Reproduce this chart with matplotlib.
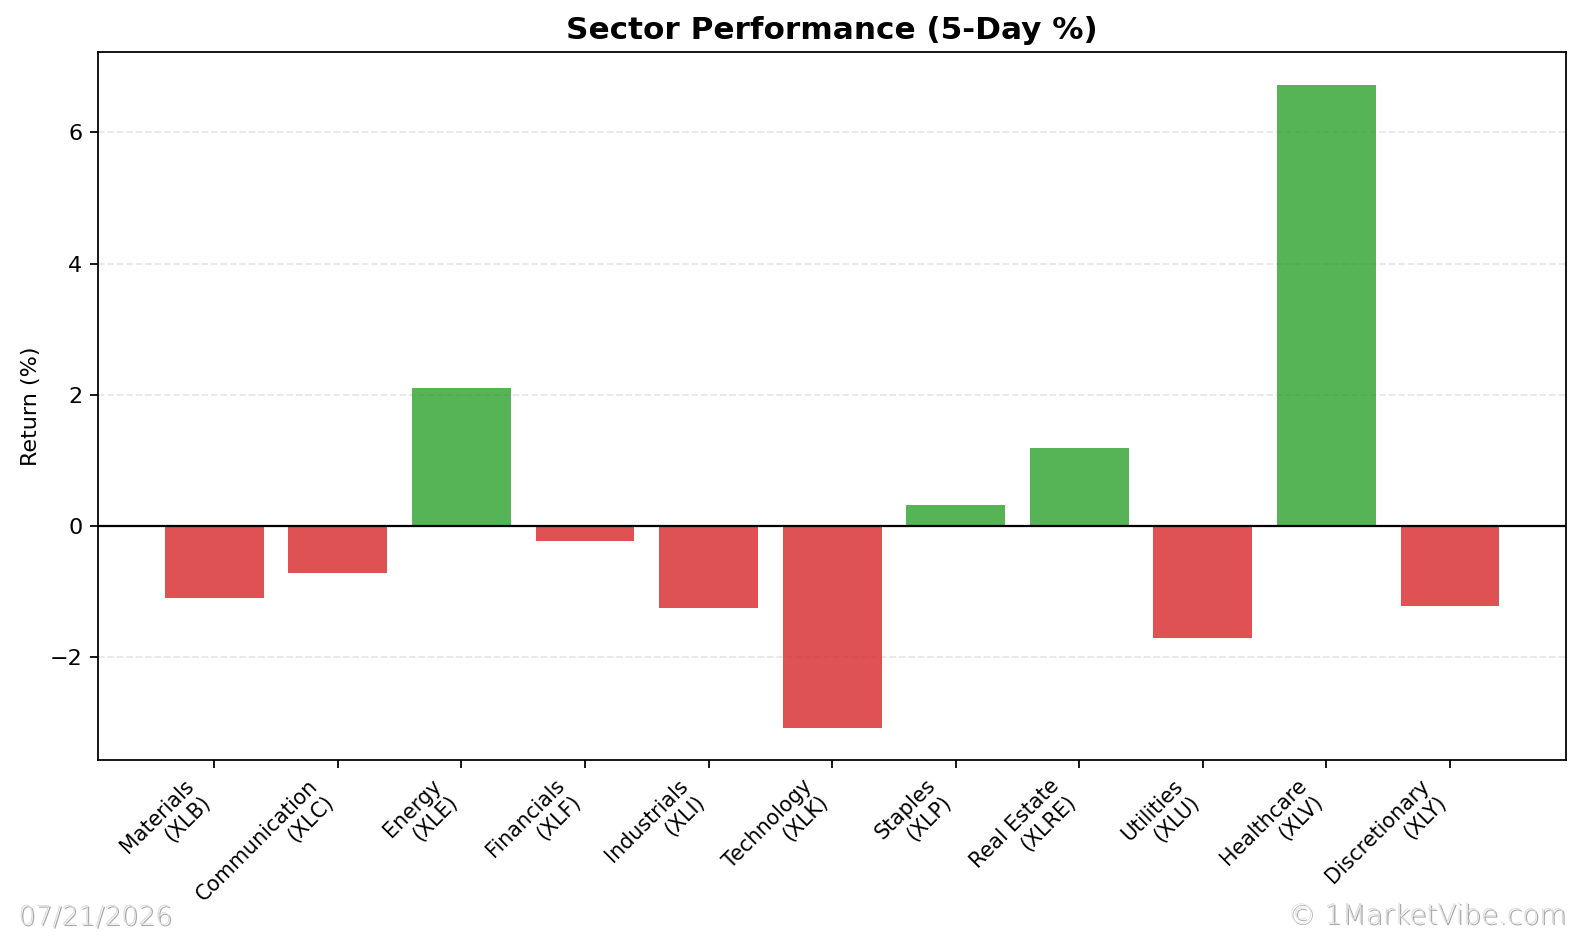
import numpy as np
import matplotlib
matplotlib.use("Agg")
import matplotlib.pyplot as plt
import matplotlib.patheffects as pe

# sector data (5-day % return)
sectors = ["Materials", "Communication", "Energy", "Financials", "Industrials",
           "Technology", "Staples", "Real Estate", "Utilities", "Healthcare",
           "Discretionary"]
tickers = ["XLB", "XLC", "XLE", "XLF", "XLI", "XLK", "XLP", "XLRE", "XLU", "XLV", "XLY"]
returns = [-1.10, -0.72, 2.10, -0.23, -1.25, -3.08, 0.32, 1.19, -1.71, 6.73, -1.23]

date_text = "07/21/2026"
brand_text = "\u00a9 1MarketVibe.com"


def main():
    dpi = 160
    fig, ax = plt.subplots(figsize=(1582 / dpi, 937 / dpi), dpi=dpi)
    fig.subplots_adjust(left=0.062, right=0.990, top=0.944, bottom=0.189)

    labels = [f"{s}\n({t})" for s, t in zip(sectors, tickers)]
    x = np.arange(len(labels))
    colors = ["#2ca02c" if r >= 0 else "#d62728" for r in returns]

    ax.bar(x, returns, color=colors, alpha=0.8, width=0.8)
    ax.axhline(0, color="black", linewidth=1)
    ax.grid(axis="y", linestyle="--", alpha=0.3)
    ax.set_axisbelow(True)

    ax.set_xticks(x)
    ax.set_xticklabels(labels, rotation=45, ha="right", fontsize=9.3)
    ax.set_ylabel("Return (%)")
    ax.set_title("Sector Performance (5-Day %)", fontsize=14, fontweight="bold")

    # watermark texts, thin light grey with a grey edge
    effects = [pe.SimplePatchShadow(offset=(0.7, -0.7), shadow_rgbFace="#8c8c8c", alpha=0.75), pe.Normal()]
    fig.text(0.0115, 0.008, date_text, fontsize=12, color="#dedede", fontweight="light",
             ha="left", va="bottom", path_effects=effects)
    fig.text(0.990, 0.008, brand_text, fontsize=12.5, color="#dedede", fontweight="light",
             ha="right", va="bottom", path_effects=effects)

    fig.savefig("out.png", dpi=dpi)


if __name__ == "__main__":
    main()
